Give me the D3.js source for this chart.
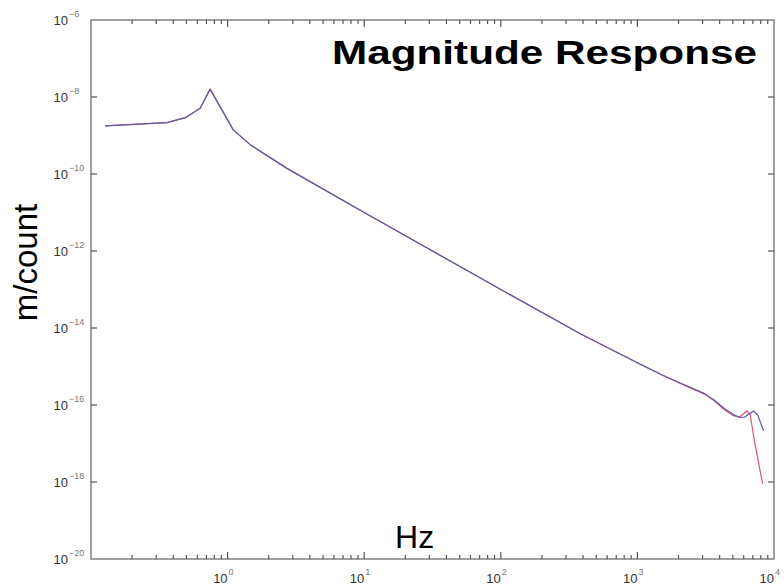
<!DOCTYPE html>
<html>
<head>
<meta charset="utf-8">
<script src="https://cdn.jsdelivr.net/npm/d3@7"></script>
<style>
    body { margin: 0; background: #fff; }
    svg { display: block; font-family: "Liberation Sans", Arial, sans-serif; }
</style>
</head>
<body>
<div id="chart"></div>
<script>
// Frequency (Hz) and magnitude (m/count)
var blueFreq = [0.127, 0.36, 0.49, 0.63, 0.745, 1.1, 1.47, 2.72, 10, 100, 385, 1000, 1490, 2080,
    3080, 3650, 4325, 4980, 5570, 6060, 7100, 7590, 8400];
var blueMag = [1.77e-9, 2.15e-9, 2.9e-9, 5.1e-9, 1.6e-8, 1.4e-9, 5.7e-10, 1.4e-10, 1.0e-11, 1.0e-13,
    7.0e-15, 1.25e-15, 6.2e-16, 3.66e-16, 2.0e-16, 1.35e-16, 8.1e-17, 5.8e-17, 4.8e-17, 4.8e-17,
    7.0e-17, 5.5e-17, 2.15e-17];
var redFreq = [0.127, 0.36, 0.49, 0.63, 0.745, 1.1, 1.47, 2.72, 10, 100, 385, 1000, 1490, 2080,
    3080, 3650, 4325, 4980, 5570, 6340, 6700, 7180, 7810, 8260];
var redMag = [1.77e-9, 2.15e-9, 2.9e-9, 5.1e-9, 1.6e-8, 1.4e-9, 5.7e-10, 1.4e-10, 1.0e-11, 1.0e-13,
    7.0e-15, 1.25e-15, 6.2e-16, 3.6e-16, 1.95e-16, 1.28e-16, 7.5e-17, 5.4e-17, 4.8e-17, 7.0e-17,
    5.5e-17, 1.23e-17, 2.5e-18, 8.9e-19];

var xLabelExps = [0, 1, 2, 3, 4];
var yLabelExps = [-20, -18, -16, -14, -12, -10, -8, -6];

var titleText = "Magnitude Response";
var xTitle = "Hz";
var yTitle = "m/count";

MagnitudePlot = function(_parentElement) {
    this.parentElement = _parentElement;
    this.totalWidth = 784;
    this.totalHeight = 586;
    this.margin = { top: 20, right: 10, bottom: 27, left: 91 };
    this.width = this.totalWidth - this.margin.left - this.margin.right;
    this.height = this.totalHeight - this.margin.top - this.margin.bottom;
    this.frameColour = "#808080";
    this.tickColour = "#555";
    this.blueColour = "#5a5da8";
    this.redColour = "#d9566c";

    this.initVis();
};

MagnitudePlot.prototype.initVis = function() {
    var vis = this;

    vis.svg = d3.select("#" + vis.parentElement).append("svg")
        .attr("width", vis.totalWidth)
        .attr("height", vis.totalHeight)
        .append("g")
        .attr("transform", "translate(" + vis.margin.left + "," + vis.margin.top + ")");

    vis.x = d3.scaleLog()
        .domain([0.1, 1e4])
        .range([0, vis.width]);

    vis.y = d3.scaleLog()
        .domain([1e-20, 1e-6])
        .range([vis.height, 0]);

    vis.drawAxes();
    vis.drawLines();
    vis.drawLabels();
};

MagnitudePlot.prototype.drawAxes = function() {
    var vis = this;

    var allX = vis.x.ticks();
    var isMajor = function(d) { return Math.abs(Math.log10(d) - Math.round(Math.log10(d))) < 1e-9; };
    var yTicks = yLabelExps.map(function(e) { return Math.pow(10, e); });

    // frame
    vis.svg.append("rect")
        .attr("x", 0).attr("y", 0)
        .attr("width", vis.width).attr("height", vis.height)
        .attr("fill", "none")
        .attr("stroke", vis.frameColour)
        .attr("stroke-width", 1.5);

    // x ticks on bottom and top, pointing inward
    var xt = vis.svg.append("g").attr("class", "x-ticks");
    [[vis.height, -1], [0, 1]].forEach(function(side) {
        xt.append("g").selectAll("line")
            .data(allX.filter(function(d) { return d > vis.x.domain()[0] && d < vis.x.domain()[1]; }))
            .enter().append("line")
            .attr("x1", function(d) { return vis.x(d); })
            .attr("x2", function(d) { return vis.x(d); })
            .attr("y1", side[0])
            .attr("y2", function(d) { return side[0] + side[1] * (isMajor(d) ? 7 : 4); })
            .attr("stroke", vis.tickColour)
            .attr("stroke-width", 1.2);
    });

    // y ticks on left and right
    var yt = vis.svg.append("g").attr("class", "y-ticks");
    [[0, 1], [vis.width, -1]].forEach(function(side) {
        yt.append("g").selectAll("line")
            .data(yTicks.slice(1, -1))
            .enter().append("line")
            .attr("x1", side[0])
            .attr("x2", side[0] + side[1] * 6)
            .attr("y1", function(d) { return vis.y(d); })
            .attr("y2", function(d) { return vis.y(d); })
            .attr("stroke", vis.tickColour)
            .attr("stroke-width", 1.2);
    });

    // tick labels as 10 with a superscript exponent
    var xl = vis.svg.append("g").selectAll("g")
        .data(xLabelExps)
        .enter().append("g")
        .attr("transform", function(d) { return "translate(" + vis.x(Math.pow(10, d)) + "," + (vis.height + 24) + ")"; });
    xl.append("text")
        .attr("text-anchor", "end")
        .attr("font-size", 13)
        .attr("fill", "#333")
        .text("10");
    xl.append("text")
        .attr("x", 1).attr("y", -8)
        .attr("font-size", 9)
        .attr("fill", "#777")
        .text(function(d) { return d; });

    var yl = vis.svg.append("g").selectAll("g")
        .data(yLabelExps)
        .enter().append("g")
        .attr("transform", function(d) { return "translate(-23," + (vis.y(Math.pow(10, d)) + 5) + ")"; });
    yl.append("text")
        .attr("text-anchor", "end")
        .attr("font-size", 13)
        .attr("fill", "#333")
        .text("10");
    yl.append("text")
        .attr("x", 1).attr("y", -8)
        .attr("font-size", 9)
        .attr("fill", "#777")
        .text(function(d) { return "\u2212" + Math.abs(d); });
};

MagnitudePlot.prototype.drawLines = function() {
    var vis = this;

    vis.line = d3.line()
        .x(function(d) { return vis.x(d[0]); })
        .y(function(d) { return vis.y(d[1]); });

    var red = redFreq.map(function(f, i) { return [f, redMag[i]]; });
    var blue = blueFreq.map(function(f, i) { return [f, blueMag[i]]; });

    vis.svg.append("path")
        .attr("fill", "none")
        .attr("stroke", vis.redColour)
        .attr("stroke-width", 1.2)
        .attr("stroke-linejoin", "round")
        .attr("d", vis.line(red));

    vis.svg.append("path")
        .attr("fill", "none")
        .attr("stroke", vis.blueColour)
        .attr("stroke-width", 1.2)
        .attr("stroke-linejoin", "round")
        .attr("d", vis.line(blue));
};

MagnitudePlot.prototype.drawLabels = function() {
    var vis = this;

    vis.svg.append("text")
        .attr("x", vis.width - 17)
        .attr("y", 44)
        .attr("text-anchor", "end")
        .attr("font-size", 33)
        .attr("font-weight", "bold")
        .attr("fill", "#000")
        .attr("textLength", 425)
        .attr("lengthAdjust", "spacingAndGlyphs")
        .text(titleText);

    vis.svg.append("text")
        .attr("x", vis.x(10) - vis.x(1) + 187)
        .attr("y", vis.height - 11)
        .attr("text-anchor", "middle")
        .attr("font-size", 32)
        .attr("fill", "#000")
        .text(xTitle);

    vis.svg.append("text")
        .attr("transform", "translate(-54," + (vis.height / 2 - 27) + ") rotate(-90)")
        .attr("text-anchor", "middle")
        .attr("font-size", 33)
        .attr("fill", "#000")
        .text(yTitle);
};

var plot = new MagnitudePlot("chart");
</script>
</body>
</html>
